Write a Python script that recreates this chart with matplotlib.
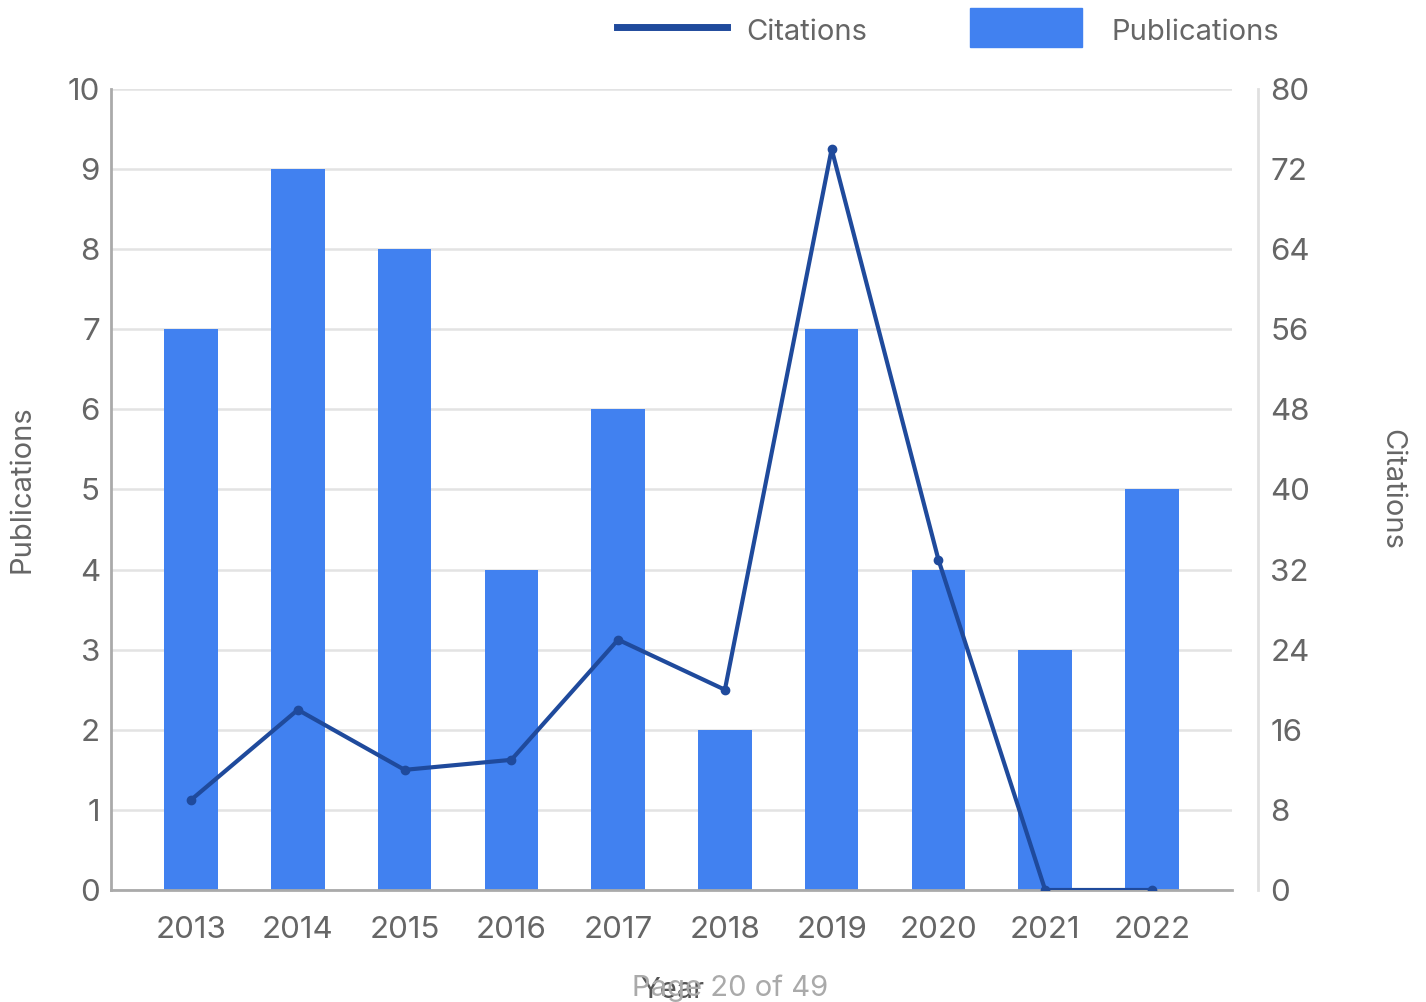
import matplotlib
matplotlib.use("Agg")
import matplotlib.pyplot as plt
from matplotlib.lines import Line2D
from matplotlib.patches import Rectangle

years = ["2013", "2014", "2015", "2016", "2017", "2018", "2019", "2020", "2021", "2022"]
publications = [7, 9, 8, 4, 6, 2, 7, 4, 3, 5]
citations = [9, 18, 12, 13, 25, 20, 74, 33, 0, 0]

W, H = 1426, 1002
DPI = 100
plt.rcParams['font.family'] = ['Inter', 'DejaVu Sans']

fig = plt.figure(figsize=(W / DPI, H / DPI), dpi=DPI)
L, R, T, B = 111, 1232, 89, 890
ax = fig.add_axes([L / W, 1 - B / H, (R - L) / W, (B - T) / H])

TXT = '#666666'
BAR = '#4181F0'
LINE = '#1F4A9C'
FS = 21
TFS = 22.5

x = list(range(len(years)))
ax.bar(x, publications, width=0.5, color=BAR, zorder=2)
ax.set_xlim(-0.75, 9.75)
ax.set_ylim(0, 10)
ax.set_yticks(range(0, 11))
ax.set_xticks(x)
ax.set_xticklabels(years)
ax.grid(axis='y', color='#e3e3e3', linewidth=1.8, zorder=0)
ax.set_axisbelow(True)
for s in ['top', 'right']:
    ax.spines[s].set_visible(False)
for s in ['left', 'bottom']:
    ax.spines[s].set_color('#aaaaaa')
    ax.spines[s].set_linewidth(2)
ax.tick_params(length=0, labelsize=TFS, labelcolor=TXT)
ax.tick_params(axis='y', pad=8)
ax.tick_params(axis='x', pad=19)
ax.set_ylabel('Publications', fontsize=FS, color=TXT, labelpad=23)

ax2 = ax.twinx()
ax2.plot(x, citations, color=LINE, linewidth=3, marker='o', markersize=6, zorder=3)
ax2.set_ylim(0, 80)
ax2.set_yticks(range(0, 81, 8))
for s in ['top', 'left', 'bottom']:
    ax2.spines[s].set_visible(False)
ax2.spines['right'].set_position(('outward', 26 * 72 / DPI))
ax2.spines['right'].set_color('#e0e0e0')
ax2.spines['right'].set_linewidth(2)
ax2.tick_params(length=0, labelsize=TFS, labelcolor=TXT, pad=9)
ax2.set_ylabel('Citations', fontsize=FS, color=TXT, rotation=-90, labelpad=68)

# bottom texts
fig.text(672 / W, 1 - 990 / H, 'Year', fontsize=FS, color='#555555', ha='center', va='center')
fig.text(730 / W, 1 - 988 / H, 'Page 20 of 49', fontsize=FS, color='#aaaaaa', ha='center', va='center')

# legend (manual)
fig.add_artist(Line2D([617 / W, 727 / W], [1 - 27 / H, 1 - 27 / H], color=LINE, linewidth=5,
                      transform=fig.transFigure))
fig.text(746 / W, 1 - 32 / H, 'Citations', fontsize=FS, color=TXT, ha='left', va='center')
fig.add_artist(Rectangle((970 / W, 1 - 47 / H), 112 / W, 39 / H, color=BAR,
                         transform=fig.transFigure))
fig.text(1112 / W, 1 - 32 / H, 'Publications', fontsize=FS, color=TXT, ha='left', va='center')

fig.savefig('out.png', dpi=DPI)
